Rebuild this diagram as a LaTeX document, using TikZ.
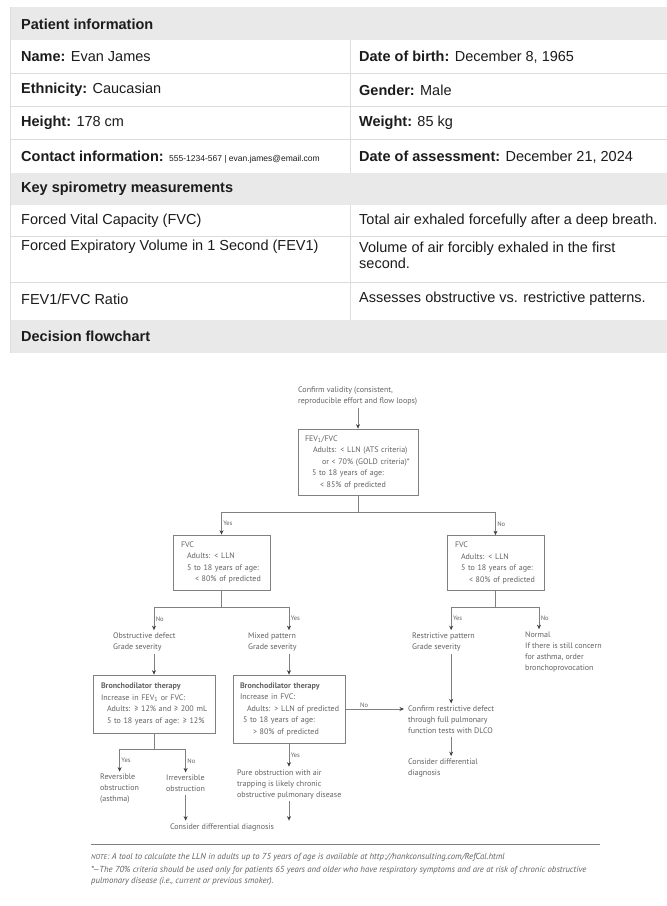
\documentclass[tikz,border=0pt]{standalone}
\usepackage{fontspec}
\setmainfont{Liberation Sans}
\newfontfamily\chartfont{PT Sans}
\usetikzlibrary{arrows.meta,positioning}

\definecolor{band}{HTML}{E9E9E9}
\definecolor{rulegray}{HTML}{DCDCDC}
\definecolor{ink}{HTML}{1C1C1C}
\definecolor{chartink}{HTML}{626262}
\definecolor{chartline}{HTML}{808080}
\newcommand{\indline}[2]{\mbox{\hspace*{#1pt}#2}}

\begin{document}
\begin{tikzpicture}[x=1pt,y=-1pt,
    cell/.style={anchor=west,inner sep=0pt,text=ink,font=\fontsize{14.5}{16}\selectfont},
    headcell/.style={cell,font=\fontsize{14.5}{16}\selectfont\bfseries},
    chartbox/.style={draw=chartline,line width=0.7pt,align=left,inner ysep=3pt,text=chartink,font=\chartfont\fontsize{8}{11.5}\selectfont},
    chartnote/.style={anchor=west,align=left,inner xsep=0pt,inner ysep=2.5pt,text=chartink,font=\chartfont\fontsize{8}{11}\selectfont},
    footnote/.style={chartnote,font=\chartfont\itshape\fontsize{8.7}{10.5}\selectfont},
    yesno/.style={inner sep=1.5pt,text=chartink,font=\chartfont\fontsize{6.5}{7}\selectfont},
    link/.style={draw=chartline,line width=0.7pt},
    arrow/.style={link,-{Stealth[length=4.5pt,width=4pt,color=black!75]}},
  ]
  \path[use as bounding box,fill=white] (0,0) rectangle (667,906);

  % table
  \fill[band] (10,7) rectangle (667,40);
  \fill[band] (10,173) rectangle (667,205);
  \fill[band] (10,320) rectangle (667,353);
  \foreach \y in {73,106,139,236,282}
    \draw[rulegray] (10,\y) -- (667,\y);
  \draw[rulegray] (350,40) -- (350,173) (350,205) -- (350,320);
  \draw[rulegray] (10,7) -- (10,353);

  \node[headcell] (patient) at (21,24) {Patient information};
  \node[cell] (name) at (21,57) {\textbf{Name:} Evan James};
  \node[cell] (birth) at (359,57) {\textbf{Date of birth:} December 8, 1965};
  \node[cell] (ethnic) at (21,90) {\textbf{Ethnicity:} Caucasian};
  \node[cell] (gender) at (359,90) {\textbf{Gender:} Male};
  \node[cell] (height) at (21,123) {\textbf{Height:} 178 cm};
  \node[cell] (weight) at (359,123) {\textbf{Weight:} 85 kg};
  \node[cell] (contact) at (21,157) {\textbf{Contact information:} {\fontsize{8.5}{9}\selectfont 555-1234-567 | evan.james@email.com}};
  \node[cell] (assess) at (359,157) {\textbf{Date of assessment:} December 21, 2024};
  \node[headcell] (keyspiro) at (21,189) {Key spirometry measurements};
  \node[cell] (fvc) at (21,221) {Forced Vital Capacity (FVC)};
  \node[cell] (fvcdesc) at (359,221) {Total air exhaled forcefully after a deep breath.};
  \node[cell] (fev) at (21,247) {Forced Expiratory Volume in 1 Second (FEV1)};
  \node[cell,align=left] (fevdesc) at (359,255) {Volume of air forcibly exhaled in the first\\second.};
  \node[cell] (ratio) at (21,299) {FEV1/FVC Ratio};
  \node[cell] (ratiodesc) at (359,299) {Assesses obstructive vs. restrictive patterns.};
  \node[headcell] (flowhead) at (21,336) {Decision flowchart};

  % flowchart
  \node[chartnote] (confirm) at (298,396) {Confirm validity (consistent,\\reproducible effort and flow loops)};
  \node[chartbox,text width=106pt,inner xsep=7pt,minimum height=66pt] (ratiobox) at (358,462)
    {FEV\textsubscript{1}/FVC\\ \indline{8}{Adults: < LLN (ATS criteria)}\\ \indline{17}{or < 70\% (GOLD criteria)*}\\ \indline{7}{5 to 18 years of age:}\\ \indline{15}{< 85\% of predicted}};
  \node[chartbox,text width=81pt,inner xsep=8pt,minimum height=55pt] (fvcleft) at (221.5,562.5)
    {FVC\\ \indline{6}{Adults: < LLN}\\ \indline{6}{5 to 18 years of age:}\\ \indline{14}{< 80\% of predicted}};
  \node[chartbox,text width=81pt,inner xsep=8pt,minimum height=55pt] (fvcright) at (495.5,563)
    {FVC\\ \indline{6}{Adults: < LLN}\\ \indline{6}{5 to 18 years of age:}\\ \indline{14}{< 80\% of predicted}};
  \node[chartnote] (obstruct) at (113,642) {Obstructive defect\\Grade severity};
  \node[chartnote] (mixed) at (248,642) {Mixed pattern\\Grade severity};
  \node[chartnote] (restrict) at (412,642) {Restrictive pattern\\Grade severity};
  \node[chartnote] (normal) at (525,652) {Normal\\If there is still concern\\for asthma, order\\bronchoprovocation};
  \node[chartbox,text width=106pt,inner xsep=8pt,minimum height=58pt] (bdleft) at (154,704)
    {\textbf{Bronchodilator therapy}\\Increase in FEV\textsubscript{1} or FVC:\\ \indline{6}{Adults: ≥ 12\% and ≥ 200 mL}\\ \indline{6}{5 to 18 years of age: ≥ 12\%}};
  \node[chartbox,text width=98pt,inner xsep=7pt,minimum height=68pt] (bdmid) at (289,709)
    {\textbf{Bronchodilator therapy}\\Increase in FVC:\\ \indline{7}{Adults: > LLN of predicted}\\ \indline{3}{5 to 18 years of age:}\\ \indline{13}{> 80\% of predicted}};
  \node[chartnote] (confirmrd) at (408,720) {Confirm restrictive defect\\through full pulmonary\\function tests with DLCO};
  \node[chartnote] (diffright) at (408,768) {Consider differential\\diagnosis};
  \node[chartnote] (reversible) at (100,789) {Reversible\\obstruction\\(asthma)};
  \node[chartnote] (irreversible) at (166,783.5) {Irreversible\\obstruction};
  \node[chartnote] (pure) at (237,784) {Pure obstruction with air\\trapping is likely chronic\\obstructive pulmonary disease};
  \node[chartnote,anchor=center] (diffbottom) at (222,827) {Consider differential diagnosis};

  \draw[arrow] (confirm.south -| ratiobox.north) -- (ratiobox.north);
  \draw[link] (ratiobox.south) -- ++(0,17) coordinate (ratiosplit);
  \draw[arrow] (ratiosplit) -| node[yesno,pos=0.75,right] {Yes} (fvcleft.north);
  \draw[arrow] (ratiosplit) -| node[yesno,pos=0.75,right] {No} (fvcright.north);
  \draw[link] (fvcleft.south) -- ++(0,17) coordinate (leftsplit);
  \draw[arrow] (leftsplit) -| node[yesno,pos=0.75,right] {No} (obstruct.north -| bdleft.north);
  \draw[arrow] (leftsplit) -| node[yesno,pos=0.75,right] {Yes} (mixed.north -| bdmid.north);
  \draw[link] (fvcright.south) -- ++(0,16) coordinate (rightsplit);
  \draw[arrow] (rightsplit) -| node[yesno,pos=0.75,right] {Yes} (restrict.north -| confirmrd.north);
  \draw[arrow] (rightsplit) -| node[yesno,pos=0.75,right] {No} ([xshift=14pt]normal.north west);
  \draw[arrow] (obstruct.south -| bdleft.north) -- (bdleft.north);
  \draw[arrow] (mixed.south -| bdmid.north) -- (bdmid.north);
  \draw[arrow] (restrict.south -| confirmrd.north) -- (confirmrd.north);
  \draw[arrow,shorten >=4pt] (bdmid.east) -- node[yesno,pos=0.3,above] {No} (confirmrd.west |- bdmid.east);
  \draw[arrow] (confirmrd.south) -- (diffright.north -| confirmrd.south);
  \draw[link] (bdleft.south) -- ++(0,16) coordinate (bdsplit);
  \draw[arrow] (bdsplit) -| node[yesno,pos=0.75,right] {Yes} (reversible.north);
  \draw[arrow] (bdsplit) -| node[yesno,pos=0.75,right] {No} (irreversible.north);
  \draw[arrow] (bdmid.south) -- node[yesno,right] {Yes} (pure.north -| bdmid.south);
  \draw[arrow] (irreversible.south) -- (diffbottom.north -| irreversible.south);
  \draw[arrow] (pure.south -| bdmid.south) -- (diffbottom.north -| bdmid.south);

  % notes
  \draw[chartline,line width=0.6pt] (91,844) -- (600,844);
  \node[footnote] (note) at (91,857) {{\fontsize{7}{8}\selectfont NOTE}: A tool to calculate the LLN in adults up to 75 years of age is available at http://hankconsulting.com/RefCal.html};
  \node[footnote] (asterisk) at (91,876) {*—The 70\% criteria should be used only for patients 65 years and older who have respiratory symptoms and are at risk of chronic obstructive\\pulmonary disease (i.e., current or previous smoker).};
\end{tikzpicture}
\end{document}
